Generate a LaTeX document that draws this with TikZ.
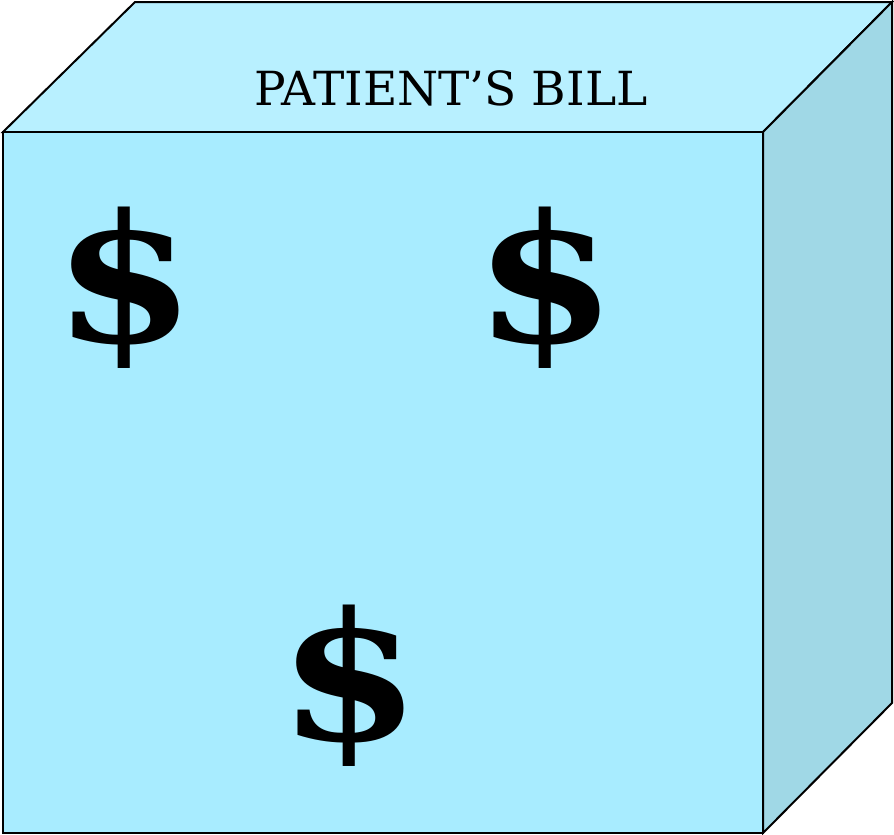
\documentclass[tikz,border=0pt]{standalone}
\usepackage{tikz}
\usepackage{fontspec}
\usetikzlibrary{positioning,calc}
\newfontfamily\billfont{DejaVu Serif}
\definecolor{billfront}{HTML}{A8ECFF}
\definecolor{billtop}{HTML}{B8F0FF}
\definecolor{billside}{HTML}{A0D8E6}

\begin{document}
\begin{tikzpicture}[
 x=1pt,y=-1pt,
 face/.style={draw=black,line width=2pt,line join=miter},
 dollar/.style={inner sep=0pt,xscale=1.15,font=\billfont\bfseries\fontsize{178}{178}\selectfont},
 title/.style={inner sep=0pt,font=\billfont\fontsize{47}{47}\selectfont,xscale=1.0}]
\useasboundingbox (0,0) rectangle (894,835);
% cube faces
\draw[face,fill=billtop] (3,132) -- (135,2) -- (892,2) -- (763,132) -- cycle;
\draw[face,fill=billside] (763,132) -- (892,2) -- (892,703) -- (763,833) -- cycle;
\draw[face,fill=billfront] (3,132) rectangle (763,833);
% labels
\node[title] (bill) at (451,88) {PATIENT’S BILL};
\node[dollar] (d1) at (125,288) {\$};
\node[dollar] (d2) at (546,288) {\$};
\node[dollar] (d3) at (350,686) {\$};
\end{tikzpicture}
\end{document}
